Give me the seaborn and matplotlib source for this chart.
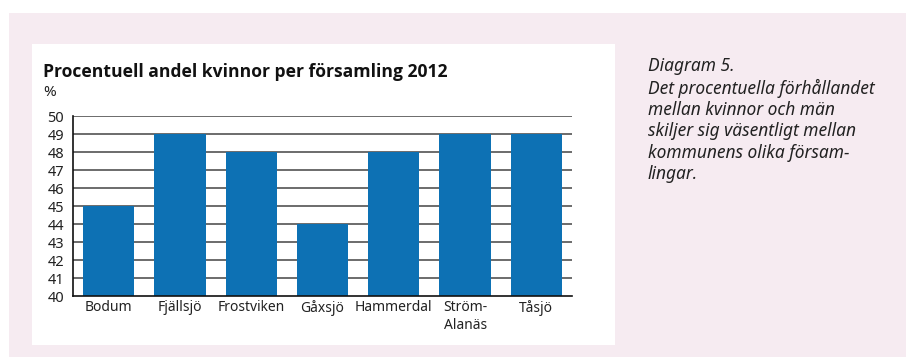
import matplotlib
matplotlib.use("Agg")
import matplotlib.pyplot as plt
import seaborn as sns
import pandas as pd
from matplotlib.patches import Rectangle

categories = ["Bodum", "Fjällsjö", "Frostviken", "Gåxsjö", "Hammerdal", "Ström-\nAlanäs", "Tåsjö"]
values = [45, 49, 48, 44, 48, 49, 49]
yticks = list(range(40, 51))

title = "Procentuell andel kvinnor per församling 2012"
unit = "%"
caption = ("Diagram 5.\nDet procentuella förhållandet\nmellan kvinnor och män\n"
           "skiljer sig väsentligt mellan\nkommunens olika försam-\nlingar.")

sns.set_theme(style="white")
plt.rcParams["font.family"] = ["Noto Sans", "DejaVu Sans"]

W, H = 906, 358
fig = plt.figure(figsize=(W / 100, H / 100), dpi=100)
fig.patch.set_facecolor("white")

def px_rect(x0, y0, x1, y1, color):
    fig.patches.append(Rectangle((x0 / W, 1 - y1 / H), (x1 - x0) / W, (y1 - y0) / H,
                                 transform=fig.transFigure, facecolor=color,
                                 edgecolor="none", zorder=-10))

px_rect(9, 13, 906, 357, "#f6ebf1")
px_rect(32, 44, 615, 345, "white")

ax = fig.add_axes([73 / W, 1 - 296 / H, (572 - 73) / W, (296 - 116) / H])
ax.set_facecolor("none")

df = pd.DataFrame({"cat": categories, "val": values})
sns.barplot(data=df, x="cat", y="val", color="#0d71b4", saturation=1, width=0.72,
            linewidth=0, edgecolor="none", ax=ax, zorder=3)

ax.set_ylim(40, 50)
ax.set_xlim(-0.5, len(categories) - 0.5)
ax.set_yticks(yticks)
ax.set_yticklabels([str(t) for t in yticks], fontsize=10.5, color="#222222")
ax.set_xlabel("")
ax.set_ylabel("")
ax.tick_params(axis="x", which="major", length=0, pad=3, labelsize=10, labelcolor="#222222")
ax.tick_params(axis="y", length=3.5, width=1, color="#444444", pad=3)
ax.set_xticks([i + 0.5 for i in range(len(categories))], minor=True)
ax.tick_params(axis="x", which="minor", direction="in", length=3.5, width=1, color="#444444")
for t in ax.get_xticklabels():
    t.set_verticalalignment("top")
    t.set_linespacing(1.25)

for y in yticks[1:]:
    ax.axhline(y, color="#444444", lw=1.1, zorder=1)

for s in ["top", "right"]:
    ax.spines[s].set_visible(False)
for s in ["left", "bottom"]:
    ax.spines[s].set_color("#111111")
    ax.spines[s].set_linewidth(1.2)
    ax.spines[s].set_zorder(5)

fig.text(43 / W, 1 - 72 / H, title, fontsize=12.65, fontweight="bold", color="#111111",
         family=["Open Sans", "DejaVu Sans"], ha="left", va="center")
fig.text(43 / W, 1 - 93 / H, unit, fontsize=11, color="#222222", ha="left", va="center")

fig.text(648 / W, 1 - 57 / H, caption, fontsize=12.5, style="italic", color="#222222",
         ha="left", va="top", linespacing=1.24)

fig.savefig("out.png", dpi=100, facecolor="white")
